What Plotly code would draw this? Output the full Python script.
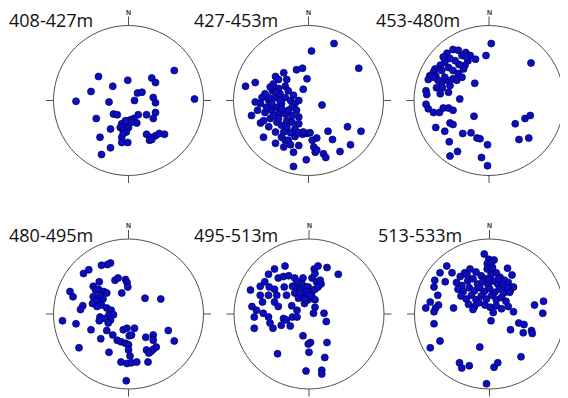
import plotly.graph_objects as go

# Panel titles (depth intervals)
titles = ["408-427m", "427-453m", "453-480m", "480-495m", "495-513m", "513-533m"]

# Pole positions in each stereonet, in percent of the primitive-circle radius (E = +x, N = +y)
p1_x = [61, 88, -40, -1, 31, 36, -21, -50, -70, -26, 12, 18, 8, 33, 36, -20, -15, 36, 24, 13, -43, 33, 2, 7, 11, -9, -3, -11, 0, -7, -24, -3, -38, -9, 24, 29, 36, 41, 48, 28, -9, -1, -24, -36, 31, -7, 4, -4]
p1_y = [40, 2, 32, 27, 30, 24, 19, 12, -1, -2, 10, 11, 0, 4, -3, -18, -19, -16, -19, -19, -24, -24, -26, -24, -30, -31, -33, -36, -36, -40, -38, -42, -49, -49, -45, -49, -47, -44, -45, -53, -56, -56, -63, -72, -52, -44, -29, -27]

p2_x = [34, 4, 67, -16, -8, -33, -44, -40, -2, -71, -84, -29, -31, -7, -48, -58, -62, -71, -64, -53, -44, -38, -31, -24, -18, -36, -42, -49, -58, -76, -40, -31, -22, -13, -51, -64, -53, -42, -36, -29, -18, -44, -36, -31, 18, -2, 2, -8, 11, 5, -18, -27, -60, -44, -33, -24, -13, 7, 9, 11, 26, 32, 52, 70, 56, 42, 20, 23, -3, -20, -20, -60, -51, -47, -40, -22, -16, -29, -49, -38, -56, -68, -27, -20, -13, -44, -53, -36, -27, -40, -22, -13, -47, -33, -24, -13, -7]
p2_y = [76, 66, 43, 41, 43, 37, 32, 28, 29, 24, 19, 28, 19, 15, 13, 9, 4, -2, -4, 0, 4, 9, 4, 0, -4, -4, -9, -13, -16, -20, -18, -18, -20, -22, -24, -30, -35, -29, -33, -36, -38, -42, -49, -53, -6, -44, -43, -45, -50, -53, -48, -53, -49, -57, -62, -59, -60, -62, -69, -66, -41, -52, -35, -41, -59, -68, -71, -76, -79, -88, -69, -27, 18, 22, 16, -9, -13, -27, -4, 0, -9, -13, 13, 7, 0, 11, 4, -11, -13, -24, -29, -31, -20, -42, -43, -43, -42]

p3_x = [3, -4, 56, -18, -56, -48, -41, -31, -36, -28, -32, -40, -45, -52, -59, -65, -72, -74, -79, -81, -71, -63, -54, -48, -41, -36, -48, -56, -63, -70, -62, -54, -65, -84, -83, -19, -39, -84, -81, -74, -66, -61, -54, -48, -20, 35, 48, 55, -52, -48, -71, -59, -35, -24, -16, -12, -53, -42, -52, -2, 40, 53, -10, -2, -59, -52, -68, -74, -43, -34, -25, -61, -30]
p3_y = [76, 60, 50, 55, 63, 68, 67, 64, 60, 53, 47, 48, 53, 56, 51, 47, 42, 38, 33, 28, 33, 40, 44, 40, 36, 31, 29, 27, 24, 17, 17, 11, 9, 13, 8, 23, 2, -5, -11, -16, -16, -10, -10, -13, -21, -31, -24, -20, -30, -32, -36, -41, -44, -43, -50, -51, -55, -68, -74, -59, -52, -50, -76, -87, 31, 20, 27, 31, 27, 42, 60, 58, 58]

p4_x = [-24, -28, -36, -53, -60, -39, -18, -14, -4, -2, -1, -9, -47, -44, -40, -33, -29, -78, -74, -47, -42, -34, -48, -36, -61, -64, -29, -23, -26, -20, 22, 43, -88, -70, -38, -39, -31, -24, -27, -50, -29, -21, -7, -2, 8, 1, 4, -15, -10, -4, 0, -37, -66, -26, 0, 2, -10, -2, 4, 11, 26, 23, 33, 33, 53, 61, 24, 30, 33, 37, 27, -3, -38, -42]
p4_y = [68, 66, 65, 59, 54, 43, 45, 48, 46, 42, 36, 28, 37, 32, 33, 30, 28, 30, 23, 23, 19, 20, 14, 12, 11, 6, 8, 5, -1, -1, 21, 20, -9, -13, -4, -9, -6, -8, -12, -21, -22, -28, -21, -19, -19, -29, -28, -35, -37, -39, -41, -33, -45, -51, -48, -56, -64, -66, -65, -64, -64, -31, -28, -35, -22, -36, -48, -50, -47, -44, -52, -89, 25, 10]

p5_x = [-32, -46, -54, -41, -34, -27, -19, -8, 7, 12, 24, 39, 8, 4, 10, 16, -65, -78, -59, -53, -46, -33, -22, -15, -12, -6, -1, 4, 8, -65, -54, -43, -30, -19, -14, -8, -1, 4, 8, -6, -62, -46, -41, -76, -70, -61, -54, -73, -23, -16, -22, -16, -34, -30, -37, -25, -48, -73, -52, 8, 6, 20, 23, -8, 2, -1, 24, 0, -42, 21, -4, 17, 17, -12, -3, -10, -16, 1, -5, 12, 15]
p5_y = [64, 60, 53, 48, 50, 51, 48, 48, 60, 64, 62, 53, 54, 48, 43, 40, 37, 32, 43, 36, 33, 36, 37, 36, 32, 37, 36, 30, 33, 25, 25, 25, 25, 28, 21, 23, 19, 23, 19, 14, 16, 16, 10, 10, 5, 1, -4, -4, 11, 5, -4, -4, -6, -8, -15, -16, -19, -19, -12, 9, 1, 1, -10, -29, -38, -40, -38, -51, -53, -58, -76, -75, -80, 28, 30, 41, 43, 25, 19, 36, 45]

p6_x = [-7, -1, 6, -3, 2, -57, -66, -50, -73, -74, -59, -69, -79, -85, -72, -68, -74, -74, -66, -79, -48, 24, 30, 32, 28, 60, 72, 71, 32, 2, 28, 39, 46, 45, 56, 57, -13, 42, -40, -37, -27, 6, 11, -4,
        -39, -33, -26, -18, -11, -6, 2, 9, 14, 20, 25,
        -44, -37, -29, -22, -16, -9, -2, 5, 11, 17, 24,
        -42, -35, -27, -20, -13, -7, 0, 7, 13, 19, 27,
        -38, -31, -24, -18, -11, -4, 3, 9, 16, 22,
        -28, -20, -14, -6, 1, 9, 16, 5, 25, -22,
        -3, 4, -30, 12, -1]
p6_y = [80, 73, 72, 67, 68, 64, 55, 55, 45, 36, 43, 25, 16, 8, 8, 12, 3, -13, -36, -45, 8, 61, 52, 36, 32, 12, 17, 1, 3, -9, -21, -12, -14, -25, -22, -26, -44, -57, -65, -72, -69, -71, -65, -93,
        50, 55, 60, 56, 51, 47, 53, 55, 49, 45, 42,
        42, 38, 44, 47, 40, 43, 39, 44, 40, 37, 35,
        33, 30, 35, 31, 35, 30, 34, 29, 33, 28, 29,
        24, 20, 25, 19, 24, 20, 25, 19, 22, 17,
        13, 10, 15, 12, 9, 11, 7, 2, 10, 6,
        60, 62, 52, 47, 46]

panels_x = [p1_x, p2_x, p3_x, p4_x, p5_x, p6_x]
panels_y = [p1_y, p2_y, p3_y, p4_y, p5_y, p6_y]

# Layout geometry (pixels in the window); page body adds an 8 px margin
OFF = 8
W, H = 560, 390
R_PX = 75.0
centers = [(128.5, 100.5), (308.5, 100.5), (489, 100.5),
           (128.5, 314), (309, 314), (489.5, 314)]
title_pos = [(7, 19.5), (192, 19.5), (374, 19.5), (7, 235), (192, 235), (376, 235)]

fig = go.Figure()
layout = dict(width=W, height=H, margin=dict(l=0, r=0, t=0, b=0),
              paper_bgcolor="white", plot_bgcolor="white", showlegend=False)
shapes = []
annotations = []
scale = 100.0 / R_PX  # data units per pixel

line_col = "#505050"
for i in range(6):
    k = "" if i == 0 else str(i + 1)
    cx, cy = centers[i][0] - OFF, centers[i][1] - OFF
    xr = [-cx * scale, (W - cx) * scale]
    yr = [-(H - cy) * scale, cy * scale]
    xa = dict(domain=[0, 1], range=xr, visible=False, fixedrange=True)
    ya = dict(domain=[0, 1], range=yr, visible=False, fixedrange=True)
    if i > 0:
        xa["overlaying"] = "x"
        ya["overlaying"] = "y"
    xa["anchor"] = "y" + k
    ya["anchor"] = "x" + k
    layout["xaxis" + k] = xa
    layout["yaxis" + k] = ya
    xref, yref = "x" + k, "y" + k
    shapes.append(dict(type="circle", xref=xref, yref=yref, x0=-100, y0=-100, x1=100, y1=100,
                       line=dict(color=line_col, width=1), layer="below"))
    for (x0, y0, x1, y1) in [(0, 100, 0, 112), (0, -100, 0, -110), (100, 0, 110, 0), (-100, 0, -110, 0)]:
        shapes.append(dict(type="line", xref=xref, yref=yref, x0=x0, y0=y0, x1=x1, y1=y1,
                           line=dict(color=line_col, width=1)))
    annotations.append(dict(x=0, y=118, xref=xref, yref=yref, text="<b>N</b>", showarrow=False,
                            font=dict(family="Liberation Sans", size=7, color="#333333"),
                            xanchor="center", yanchor="middle"))
    tx, ty = title_pos[i]
    annotations.append(dict(x=(tx - OFF) / W, y=1 - (ty - OFF) / H, xref="paper", yref="paper",
                            text=titles[i], showarrow=False, xanchor="left", yanchor="middle",
                            font=dict(family="Open Sans", size=18, color="#111111")))
    fig.add_trace(go.Scatter(x=panels_x[i], y=panels_y[i], xaxis=xref, yaxis=yref, mode="markers",
                             marker=dict(size=7, color="#0c0cc0",
                                         line=dict(color="#000060", width=0.7)),
                             cliponaxis=False, hoverinfo="skip"))

layout["shapes"] = shapes
layout["annotations"] = annotations
fig.update_layout(**layout)
fig.write_html("out.html")
